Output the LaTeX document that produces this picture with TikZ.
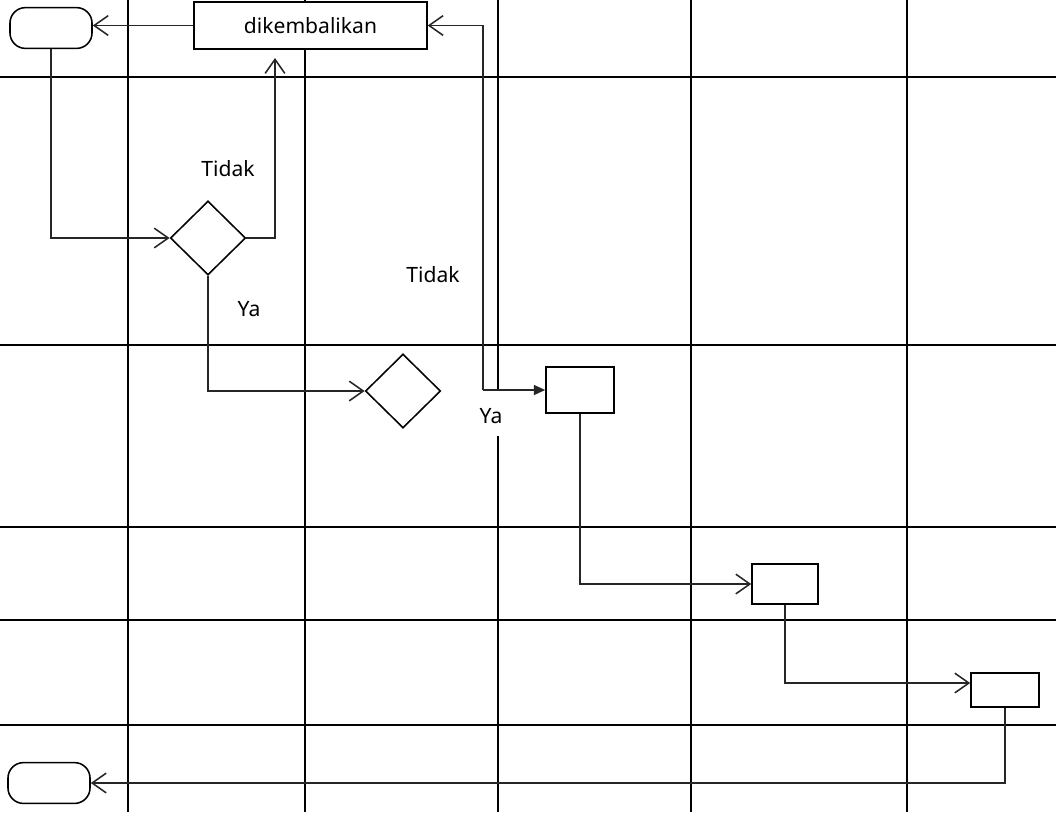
\documentclass[tikz,border=0pt]{standalone}
\usepackage{fontspec}
\setmainfont{Noto Sans}
\usepackage{tikz}
\usetikzlibrary{arrows.meta,positioning,shapes.geometric,calc}

\begin{document}
\begin{tikzpicture}[x=0.025cm,y=-0.025cm,
  grid/.style={black, line width=1pt},
  conn/.style={black!85, line width=1.1pt, -{Straight Barb[length=10pt,width=14pt]}},
  fconn/.style={black!85, line width=1.1pt, -{Triangle[length=8pt,width=7pt]}},
  box/.style={draw, fill=white, line width=1.1pt, inner sep=0pt},
  term/.style={box, rounded corners=11pt, minimum width=2.05cm, minimum height=1.02cm},
  dec/.style={box, diamond, minimum width=1.88cm, minimum height=1.85cm},
  lbl/.style={font=\fontsize{15}{18}\selectfont}]
  \useasboundingbox (0,0) rectangle (1056,812);
  % Swimlane grid
  \foreach \gy in {77,345,527,620,725} {
    \draw[grid] (0,\gy) -- (1056,\gy);
  }
  \foreach \gx in {128,305,691,907} {
    \draw[grid] (\gx,0) -- (\gx,812);
  }
  \draw[grid] (498,0) -- (498,390);
  \draw[grid] (498,436) -- (498,812);
  % Nodes
  \node[term] (start) at (51,28) {};
  \node[box, minimum width=5.82cm, minimum height=1.17cm, lbl] (kembali) at (310.5,25.5) {dikembalikan};
  \node[dec] (cek1) at (208,238) {};
  \node[dec] (cek2) at (403,391) {};
  \node[box, minimum width=1.7cm, minimum height=1.15cm] (proses1) at (580,390) {};
  \node[box, minimum width=1.65cm, minimum height=1cm] (proses2) at (785,584) {};
  \node[box, minimum width=1.7cm, minimum height=0.85cm] (proses3) at (1005,690) {};
  \node[term] (selesai) at (49,783) {};
  % Labels
  \node[lbl] (tidak1) at (228,169) {Tidak};
  \node[lbl] (ya1) at (249,309) {Ya};
  \node[lbl] (tidak2) at (433,275) {Tidak};
  \node[lbl] (ya2) at (491,416) {Ya};
  % Connectors
  \coordinate (naik) at (275,58);
  \coordinate (belok) at (483,390);
  \draw[conn] (kembali.west) -- (start.east |- kembali.west);
  \draw[conn] (start.south) |- (cek1.west);
  \draw[conn] (cek1.east) -| (naik);
  \draw[conn] (cek1.south) |- (cek2.west);
  \draw[conn] (belok) |- (kembali.east);
  \draw[fconn] (belok) -- (proses1.west);
  \draw[conn] (proses1.south) |- (proses2.west);
  \draw[conn] (proses2.south) |- ([yshift=0.175cm]proses3.west);
  \draw[conn] (proses3.south) |- (selesai.east);
\end{tikzpicture}
\end{document}
